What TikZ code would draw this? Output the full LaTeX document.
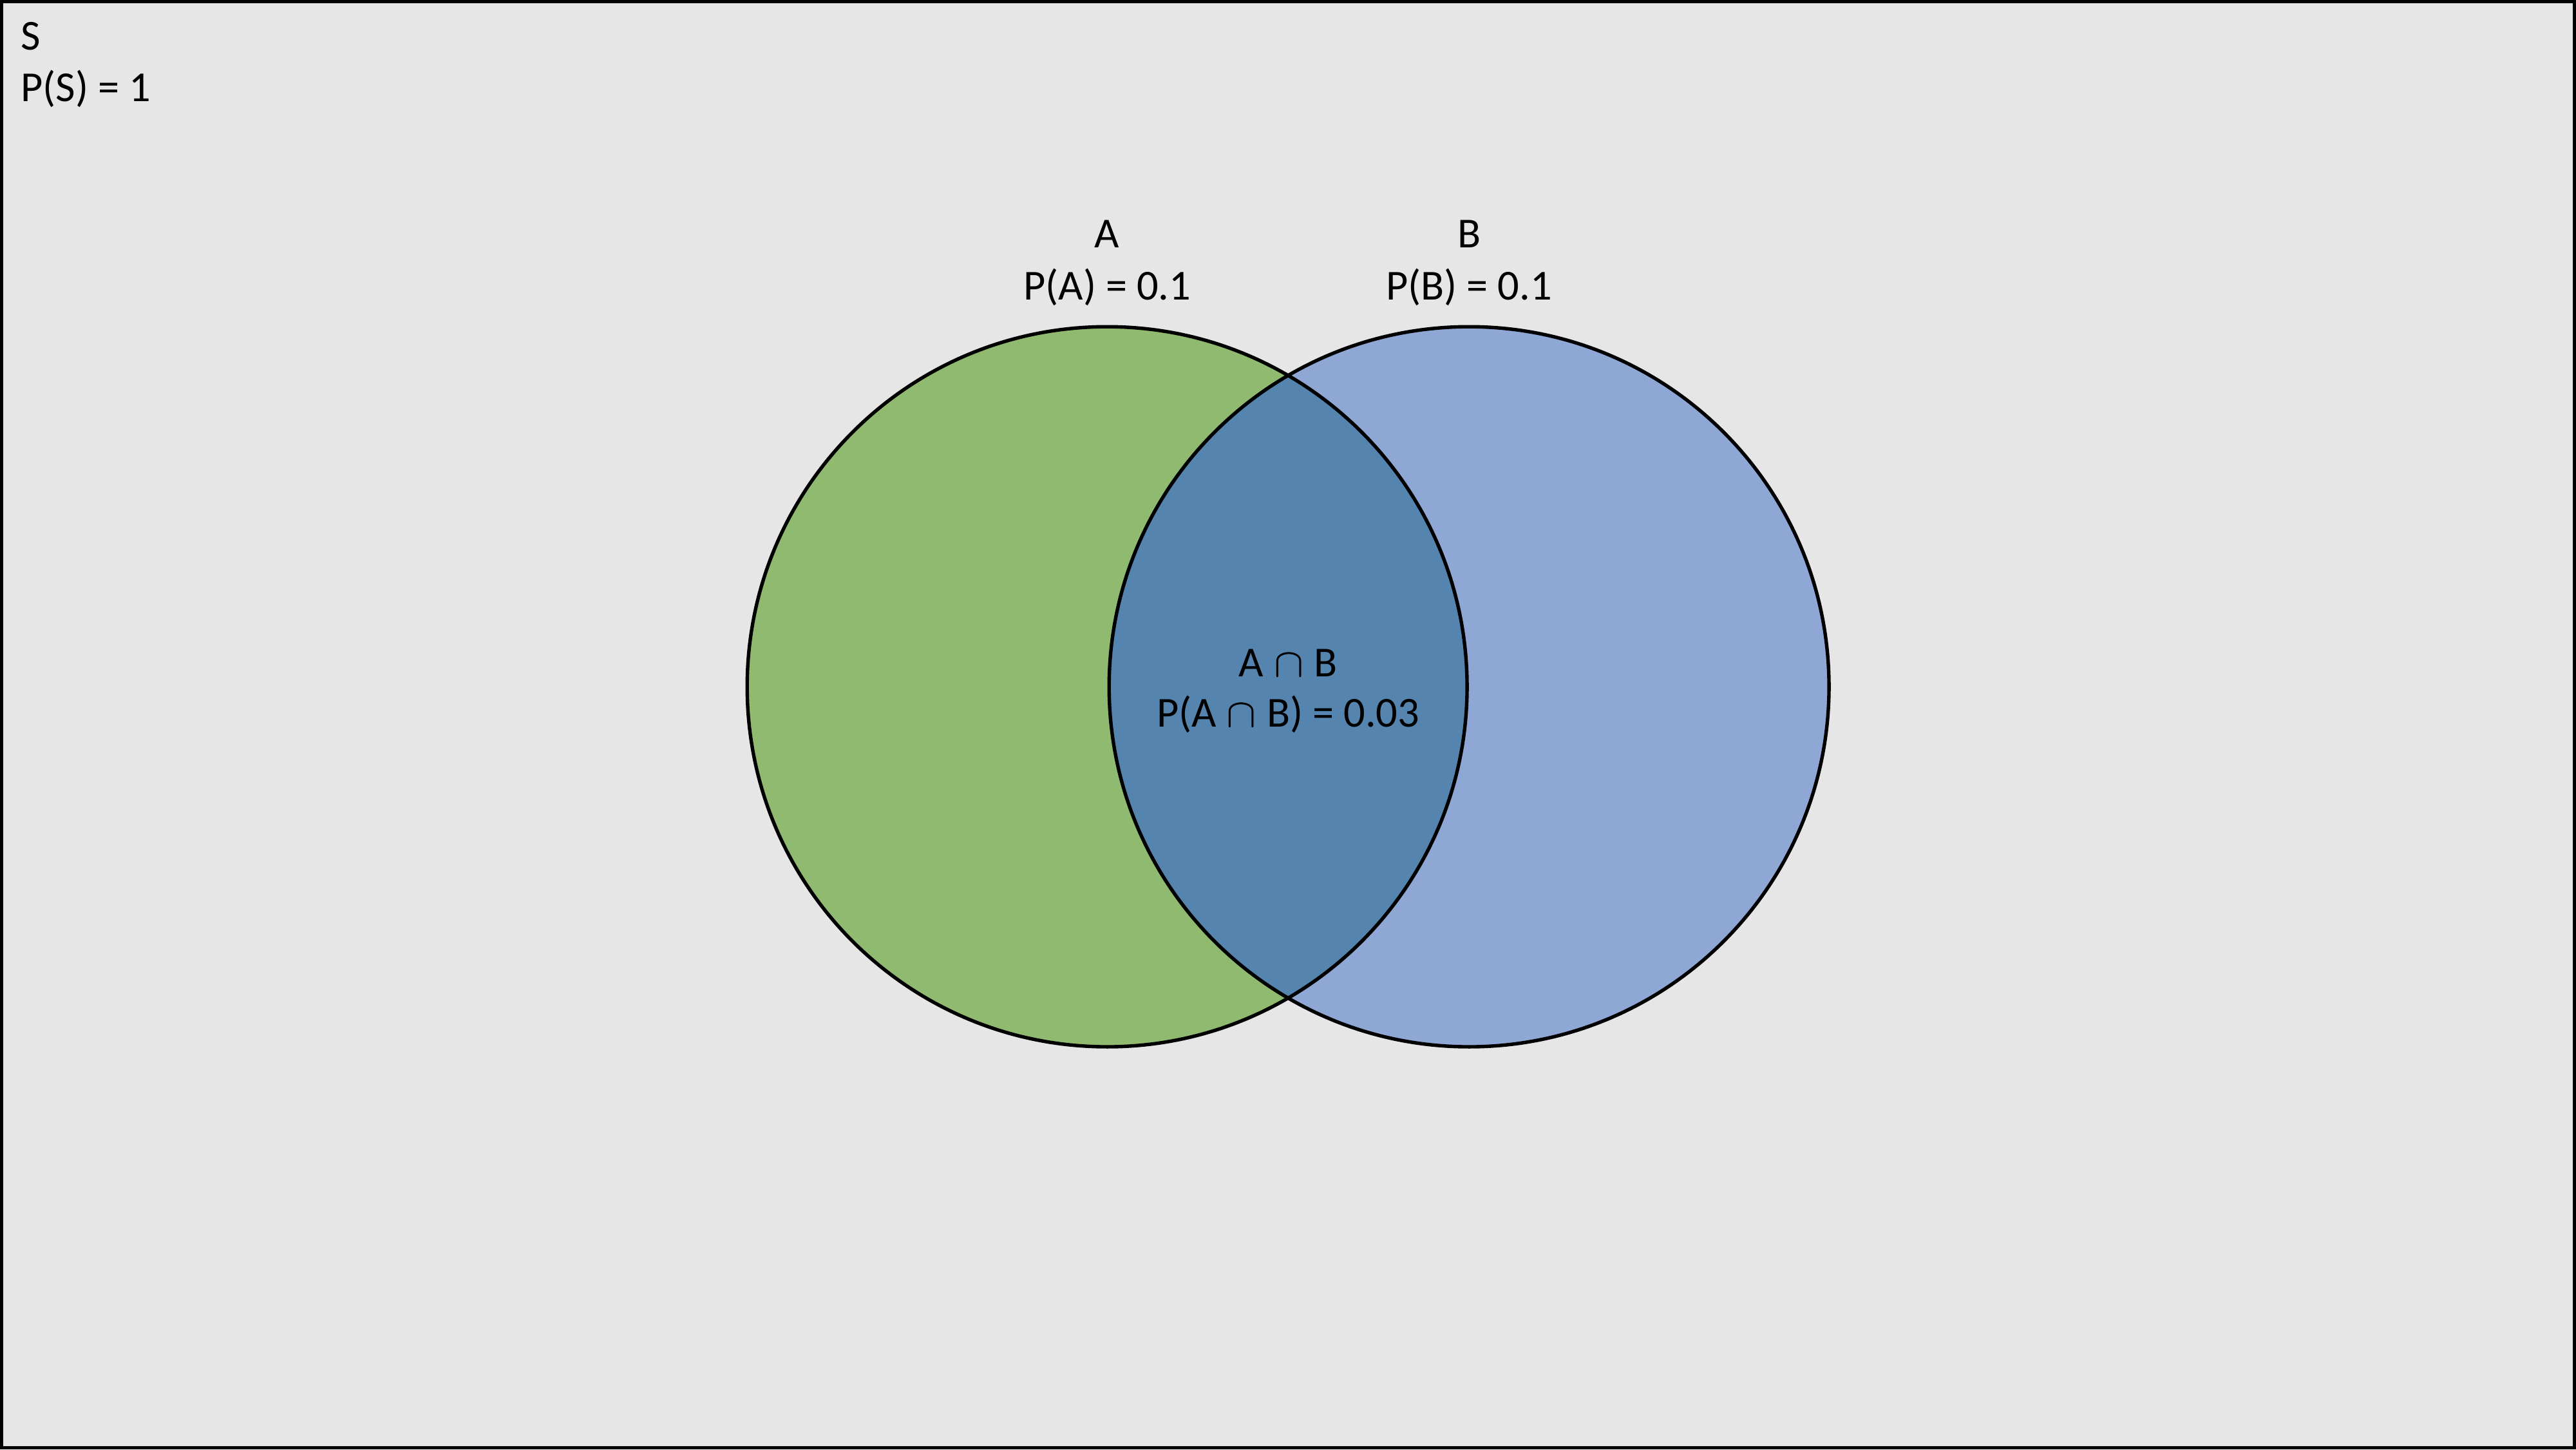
\documentclass[tikz,border=0pt]{standalone}
\usepackage{fontspec}
\setmainfont{Carlito}
\usepackage{xcolor}

\definecolor{slidebg}{HTML}{E6E6E6}
\definecolor{setA}{HTML}{8FBA6F}
\definecolor{setB}{HTML}{8EA7D4}
\definecolor{setAB}{HTML}{5584AE}

\begin{document}
\begin{tikzpicture}[
            set/.style = {shape=circle, minimum size=4.382cm, inner sep=0pt}, % event circle
            rim/.style = {draw=black, line width=0.6pt}, % circle outline
            lbl/.style = {anchor=base, inner sep=0pt, font=\fontsize{7.4}{9}\selectfont}
        ]
\useasboundingbox (0,0) rectangle (15.68,-8.82);
\draw[fill=slidebg, line width=0.6pt] (0.01,-0.01) rectangle (15.67,-8.81);

\node[set, fill=setA] (A) at (6.739,-4.179) {};
\node[set, fill=setB] (B) at (8.942,-4.179) {};

% overlap of the two events
\begin{scope}
  \clip (A.center) circle (2.191);
  \fill[setAB] (B.center) circle (2.191);
\end{scope}
\draw[rim] (A.center) circle (2.191);
\draw[rim] (B.center) circle (2.191);

\node[lbl, anchor=base west] (nameS) at (0.12,-0.302) {S};
\node[lbl, anchor=base west] (probS) at (0.12,-0.616) {P(S) = 1};

\node[lbl] (nameA) at (6.739,-1.509) {A};
\node[lbl] (probA) at (6.739,-1.823) {P(A) = 0.1};
\node[lbl] (nameB) at (8.942,-1.509) {B};
\node[lbl] (probB) at (8.942,-1.823) {P(B) = 0.1};

\node[lbl] (nameAB) at (7.84,-4.116) {A $\cap$ B};
\node[lbl] (probAB) at (7.84,-4.422) {P(A $\cap$ B) = 0.03};
\end{tikzpicture}
\end{document}
